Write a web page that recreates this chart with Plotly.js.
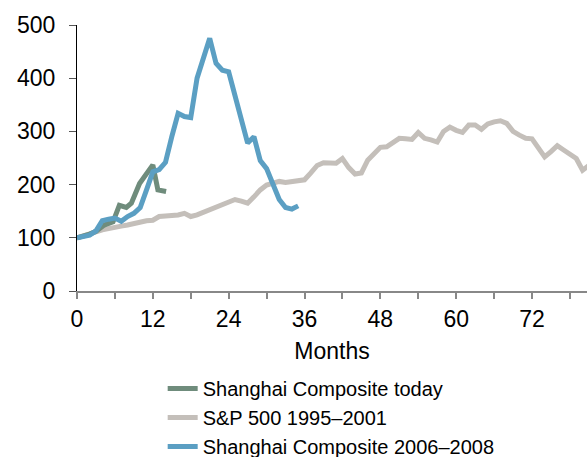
<!DOCTYPE html>
<html>
<head>
<meta charset="utf-8">
<script src="https://cdn.plot.ly/plotly-3.0.1.min.js"></script>
<style>
html,body{margin:0;padding:0;background:#fff;}
#chart{width:587px;height:457px;}
</style>
</head>
<body>
<div id="chart"></div>
<script>
// S&P 500 1995–2001 (monthly, indexed to 100)
const spMonths = [];
for (let i = 0; i <= 81; i++) spMonths.push(i);
const spValues = [100,103,107,111,115,118,121,122,124,127,128,132,133,140,141,141,143,146,140,143,
  148,152,158,162,166,172,169,165,177,190,199,202,206,204,206,209,209,222,236,241,
  240,240,249,232,220,222,246,258,270,271,280,287,286,285,298,287,284,280,300,308,
  302,298,312,312,304,314,318,320,315,300,293,287,286,270,252,262,273,265,258,249,
  227,236];

// Shanghai Composite today
const shTodayMonths = [0,1,2,3,4.3,5.7,6.7,7.8,8.6,9.9,11,12,12.8,14.1];
const shTodayValues = [100,103,107,112,124,130,161,157,165,202,220,237,190,187];

// Shanghai Composite 2006–2008 (monthly)
const sh0608Months = [];
for (let i = 0; i <= 35; i++) sh0608Months.push(i);
const sh0608Values = [100,103,105,113,132,135,137,131,140,146,157,190,224,228,242,290,334,328,326,400,
  437,475,428,415,412,366,320,278,290,245,230,200,172,157,154,160];

const xTickVals = [0,12,24,36,48,60,72];
const yTickVals = [0,100,200,300,400,500];

const names = ['Shanghai Composite today','S&P 500 1995–2001','Shanghai Composite 2006–2008'];
const colors = ['#6f8c7c','#c4bfba','#5b9fc3'];

const traces = [
  {x: spMonths, y: spValues, name: names[1], mode: 'lines', legendrank: 2,
   line: {color: colors[1], width: 5}},
  {x: shTodayMonths, y: shTodayValues, name: names[0], mode: 'lines', legendrank: 1,
   line: {color: colors[0], width: 5}},
  {x: sh0608Months, y: sh0608Values, name: names[2], mode: 'lines', legendrank: 3,
   line: {color: colors[2], width: 5}}
];

const font = 'Liberation Sans, Arial, sans-serif';

const layout = {
  width: 587, height: 457,
  margin: {l: 77, r: 0, t: 25, b: 166, autoexpand: false},
  paper_bgcolor: '#fff', plot_bgcolor: '#fff',
  font: {family: font, color: '#000', size: 23},
  showlegend: true,
  legend: {x: 0.168, xanchor: 'left', y: -0.293, yanchor: 'top', font: {family: font, size: 20, color: '#000'},
           bgcolor: 'rgba(0,0,0,0)', tracegroupgap: 0},
  xaxis: {
    range: [0, 80.7], tickvals: xTickVals, ticktext: xTickVals.map(String),
    ticks: 'outside', ticklen: 6, tickcolor: '#888', tickwidth: 2,
    minor: {dtick: 6, tick0: 0, ticks: 'outside', ticklen: 6, tickcolor: '#888', tickwidth: 2},
    showline: true, linecolor: '#888', linewidth: 2,
    showgrid: false, zeroline: false,
    tickfont: {family: font, size: 23, color: '#000'},
    title: {text: 'Months', font: {family: font, size: 23, color: '#000'}, standoff: 12}
  },
  yaxis: {
    range: [0, 500], tickvals: yTickVals, ticktext: yTickVals.map(String),
    ticks: 'outside', ticklen: 7, tickcolor: '#555', tickwidth: 1,
    showline: true, linecolor: '#000', linewidth: 1,
    showgrid: false, zeroline: false,
    ticklabelstandoff: 9,
    tickfont: {family: font, size: 23, color: '#000'}
  }
};

Plotly.newPlot('chart', traces, layout, {displayModeBar: false, staticPlot: true});
</script>
</body>
</html>
